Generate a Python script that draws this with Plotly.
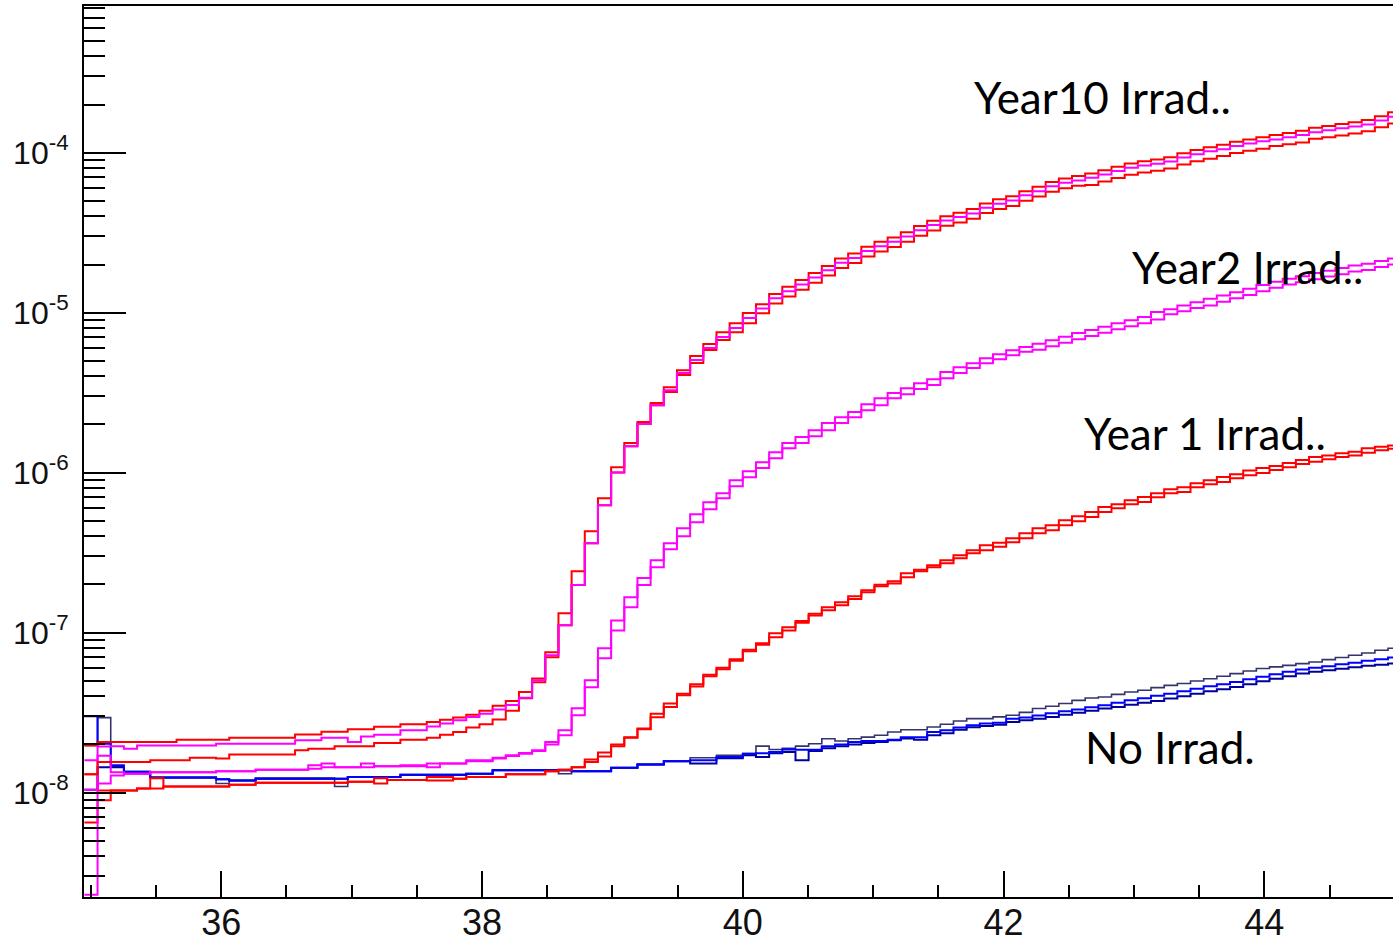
import numpy as np
import plotly.graph_objects as go

# Histogram binning (100 bins)
BIN_LOW, BIN_HIGH, N_BINS = 34.95, 45.05, 100

# ---------------- data (bin contents) ----------------
year10_red_a = [1.97e-8, 2.07e-8, 2.07e-8, 2.07e-8, 2.07e-8, 2.07e-8, 2.07e-8, 2.14e-8, 2.14e-8, 2.14e-8,
                2.14e-8, 2.20e-8, 2.20e-8, 2.20e-8, 2.20e-8, 2.20e-8, 2.31e-8, 2.31e-8, 2.40e-8, 2.40e-8,
                2.49e-8, 2.49e-8, 2.58e-8, 2.58e-8, 2.67e-8, 2.67e-8, 2.76e-8, 2.85e-8, 2.95e-8, 3.06e-8,
                3.25e-8, 3.49e-8, 3.74e-8, 4.25e-8, 5.16e-8, 7.53e-8, 1.32e-7, 2.42e-7, 4.30e-7, 6.91e-7,
                1.08e-6, 1.53e-6, 2.07e-6, 2.72e-6, 3.42e-6, 4.37e-6, 5.35e-6, 6.36e-6, 7.55e-6, 8.60e-6,
                9.94e-6, 1.13e-5, 1.31e-5, 1.45e-5, 1.60e-5, 1.77e-5, 1.96e-5, 2.18e-5, 2.34e-5, 2.58e-5,
                2.77e-5, 2.95e-5, 3.18e-5, 3.48e-5, 3.75e-5, 4.01e-5, 4.21e-5, 4.44e-5, 4.82e-5, 5.11e-5,
                5.35e-5, 5.75e-5, 6.12e-5, 6.55e-5, 6.89e-5, 7.14e-5, 7.40e-5, 7.78e-5, 8.18e-5, 8.55e-5,
                8.85e-5, 9.08e-5, 9.38e-5, 9.93e-5, 1.04e-4, 1.08e-4, 1.12e-4, 1.17e-4, 1.21e-4, 1.25e-4,
                1.29e-4, 1.33e-4, 1.37e-4, 1.43e-4, 1.47e-4, 1.51e-4, 1.55e-4, 1.60e-4, 1.69e-4, 1.79e-4]

year10_magenta = [1.59e-8, 1.94e-8, 1.95e-8, 1.88e-8, 1.97e-8, 1.97e-8, 1.97e-8, 1.97e-8, 1.97e-8, 1.97e-8,
                  2.02e-8, 2.02e-8, 2.02e-8, 2.02e-8, 2.02e-8, 2.02e-8, 2.12e-8, 2.12e-8, 2.20e-8, 2.20e-8,
                  2.07e-8, 2.24e-8, 2.30e-8, 2.30e-8, 2.45e-8, 2.45e-8, 2.59e-8, 2.70e-8, 2.83e-8, 2.97e-8,
                  3.11e-8, 3.30e-8, 3.53e-8, 3.92e-8, 5.03e-8, 7.21e-8, 1.11e-7, 1.98e-7, 3.62e-7, 6.25e-7,
                  1.00e-6, 1.46e-6, 2.01e-6, 2.64e-6, 3.27e-6, 4.19e-6, 5.06e-6, 6.02e-6, 7.05e-6, 8.02e-6,
                  9.27e-6, 1.06e-5, 1.23e-5, 1.36e-5, 1.50e-5, 1.66e-5, 1.84e-5, 2.05e-5, 2.20e-5, 2.43e-5,
                  2.60e-5, 2.77e-5, 2.99e-5, 3.27e-5, 3.53e-5, 3.77e-5, 3.96e-5, 4.17e-5, 4.53e-5, 4.80e-5,
                  5.03e-5, 5.41e-5, 5.75e-5, 6.16e-5, 6.48e-5, 6.71e-5, 6.96e-5, 7.31e-5, 7.69e-5, 8.04e-5,
                  8.32e-5, 8.54e-5, 8.82e-5, 9.33e-5, 9.78e-5, 1.02e-4, 1.05e-4, 1.10e-4, 1.14e-4, 1.18e-4,
                  1.21e-4, 1.25e-4, 1.29e-4, 1.34e-4, 1.38e-4, 1.42e-4, 1.46e-4, 1.50e-4, 1.59e-4, 1.68e-4]

year10_red_b = [1.30e-8, 1.55e-8, 1.55e-8, 1.55e-8, 1.55e-8, 1.59e-8, 1.59e-8, 1.59e-8, 1.65e-8, 1.65e-8,
                1.63e-8, 1.73e-8, 1.73e-8, 1.73e-8, 1.73e-8, 1.73e-8, 1.84e-8, 1.88e-8, 1.88e-8, 1.95e-8,
                1.95e-8, 1.95e-8, 2.04e-8, 2.04e-8, 2.14e-8, 2.14e-8, 2.20e-8, 2.30e-8, 2.39e-8, 2.55e-8,
                2.67e-8, 2.86e-8, 3.24e-8, 3.88e-8, 4.89e-8, 7.02e-8, 1.11e-7, 1.98e-7, 3.62e-7, 6.25e-7,
                1.00e-6, 1.46e-6, 2.01e-6, 2.64e-6, 3.19e-6, 4.08e-6, 4.84e-6, 5.84e-6, 6.74e-6, 7.55e-6,
                8.60e-6, 9.90e-6, 1.14e-5, 1.26e-5, 1.39e-5, 1.54e-5, 1.71e-5, 1.90e-5, 2.04e-5, 2.24e-5,
                2.41e-5, 2.57e-5, 2.77e-5, 3.03e-5, 3.26e-5, 3.49e-5, 3.66e-5, 3.86e-5, 4.19e-5, 4.45e-5,
                4.65e-5, 5.00e-5, 5.32e-5, 5.70e-5, 5.99e-5, 6.21e-5, 6.29e-5, 6.61e-5, 6.95e-5, 7.27e-5,
                7.52e-5, 7.72e-5, 7.97e-5, 8.44e-5, 8.84e-5, 9.18e-5, 9.52e-5, 9.95e-5, 1.03e-4, 1.06e-4,
                1.10e-4, 1.13e-4, 1.16e-4, 1.22e-4, 1.25e-4, 1.28e-4, 1.32e-4, 1.36e-4, 1.44e-4, 1.52e-4]

year2_magenta_a = [1.04e-8, 1.70e-8, 1.34e-8, 1.31e-8, 1.31e-8, 1.34e-8, 1.34e-8, 1.34e-8, 1.34e-8, 1.34e-8,
                   1.36e-8, 1.36e-8, 1.36e-8, 1.39e-8, 1.39e-8, 1.39e-8, 1.39e-8, 1.48e-8, 1.52e-8, 1.44e-8,
                   1.44e-8, 1.52e-8, 1.46e-8, 1.46e-8, 1.48e-8, 1.48e-8, 1.52e-8, 1.52e-8, 1.52e-8, 1.59e-8,
                   1.59e-8, 1.65e-8, 1.71e-8, 1.77e-8, 1.84e-8, 2.07e-8, 2.45e-8, 3.37e-8, 5.04e-8, 7.98e-8,
                   1.19e-7, 1.66e-7, 2.19e-7, 2.83e-7, 3.62e-7, 4.49e-7, 5.50e-7, 6.53e-7, 7.43e-7, 8.96e-7,
                   1.02e-6, 1.16e-6, 1.34e-6, 1.53e-6, 1.67e-6, 1.84e-6, 2.04e-6, 2.22e-6, 2.39e-6, 2.68e-6,
                   2.92e-6, 3.14e-6, 3.37e-6, 3.62e-6, 3.84e-6, 4.25e-6, 4.56e-6, 4.83e-6, 5.19e-6, 5.49e-6,
                   5.82e-6, 6.11e-6, 6.40e-6, 6.73e-6, 7.08e-6, 7.45e-6, 7.78e-6, 8.17e-6, 8.59e-6, 8.97e-6,
                   9.38e-6, 1.01e-5, 1.05e-5, 1.11e-5, 1.16e-5, 1.22e-5, 1.28e-5, 1.34e-5, 1.41e-5, 1.49e-5,
                   1.56e-5, 1.63e-5, 1.69e-5, 1.77e-5, 1.83e-5, 1.90e-5, 1.97e-5, 2.02e-5, 2.10e-5, 2.18e-5]

year2_magenta_b = [2.3e-9, 1.14e-8, 1.28e-8, 1.31e-8, 1.31e-8, 1.34e-8, 1.34e-8, 1.34e-8, 1.34e-8, 1.34e-8,
                   1.36e-8, 1.36e-8, 1.36e-8, 1.39e-8, 1.39e-8, 1.39e-8, 1.39e-8, 1.41e-8, 1.44e-8, 1.44e-8,
                   1.44e-8, 1.44e-8, 1.46e-8, 1.46e-8, 1.46e-8, 1.46e-8, 1.44e-8, 1.52e-8, 1.52e-8, 1.57e-8,
                   1.57e-8, 1.63e-8, 1.69e-8, 1.75e-8, 1.82e-8, 2.00e-8, 2.28e-8, 3.04e-8, 4.55e-8, 6.90e-8,
                   1.03e-7, 1.44e-7, 1.98e-7, 2.56e-7, 3.32e-7, 4.00e-7, 4.90e-7, 5.90e-7, 6.92e-7, 8.23e-7,
                   9.35e-7, 1.07e-6, 1.23e-6, 1.42e-6, 1.53e-6, 1.69e-6, 1.84e-6, 2.04e-6, 2.22e-6, 2.45e-6,
                   2.64e-6, 2.92e-6, 3.09e-6, 3.33e-6, 3.53e-6, 3.89e-6, 4.19e-6, 4.50e-6, 4.83e-6, 5.12e-6,
                   5.42e-6, 5.69e-6, 5.87e-6, 6.17e-6, 6.49e-6, 6.83e-6, 7.14e-6, 7.50e-6, 7.88e-6, 8.23e-6,
                   8.59e-6, 9.05e-6, 9.79e-6, 1.02e-5, 1.07e-5, 1.11e-5, 1.17e-5, 1.23e-5, 1.29e-5, 1.36e-5,
                   1.43e-5, 1.50e-5, 1.55e-5, 1.62e-5, 1.68e-5, 1.74e-5, 1.81e-5, 1.85e-5, 1.93e-5, 2.00e-5]

year1_red_a = [1.30e-8, 1.03e-8, 1.03e-8, 1.03e-8, 1.06e-8, 1.23e-8, 1.09e-8, 1.09e-8, 1.09e-8, 1.09e-8,
               1.09e-8, 1.12e-8, 1.12e-8, 1.15e-8, 1.15e-8, 1.15e-8, 1.15e-8, 1.15e-8, 1.15e-8, 1.15e-8,
               1.17e-8, 1.17e-8, 1.23e-8, 1.20e-8, 1.20e-8, 1.20e-8, 1.25e-8, 1.25e-8, 1.22e-8, 1.25e-8,
               1.25e-8, 1.25e-8, 1.30e-8, 1.30e-8, 1.30e-8, 1.36e-8, 1.39e-8, 1.44e-8, 1.61e-8, 1.78e-8,
               2.00e-8, 2.22e-8, 2.51e-8, 3.11e-8, 3.60e-8, 4.15e-8, 4.75e-8, 5.45e-8, 6.02e-8, 6.80e-8,
               7.80e-8, 8.57e-8, 9.90e-8, 1.08e-7, 1.18e-7, 1.31e-7, 1.44e-7, 1.55e-7, 1.69e-7, 1.84e-7,
               1.99e-7, 2.09e-7, 2.35e-7, 2.47e-7, 2.64e-7, 2.83e-7, 3.04e-7, 3.27e-7, 3.52e-7, 3.65e-7,
               3.89e-7, 4.18e-7, 4.49e-7, 4.69e-7, 5.04e-7, 5.34e-7, 5.68e-7, 6.10e-7, 6.34e-7, 6.72e-7,
               7.05e-7, 7.43e-7, 7.87e-7, 8.11e-7, 8.59e-7, 8.96e-7, 9.40e-7, 9.77e-7, 1.03e-6, 1.07e-6,
               1.10e-6, 1.15e-6, 1.20e-6, 1.25e-6, 1.28e-6, 1.32e-6, 1.35e-6, 1.42e-6, 1.45e-6, 1.48e-6]

year1_red_b = [6.5e-9, 8.94e-9, 1.03e-8, 1.03e-8, 1.06e-8, 1.06e-8, 1.09e-8, 1.09e-8, 1.09e-8, 1.09e-8,
               1.09e-8, 1.12e-8, 1.12e-8, 1.15e-8, 1.15e-8, 1.15e-8, 1.15e-8, 1.15e-8, 1.15e-8, 1.15e-8,
               1.17e-8, 1.17e-8, 1.14e-8, 1.20e-8, 1.20e-8, 1.20e-8, 1.19e-8, 1.19e-8, 1.22e-8, 1.25e-8,
               1.25e-8, 1.25e-8, 1.30e-8, 1.30e-8, 1.30e-8, 1.36e-8, 1.39e-8, 1.44e-8, 1.55e-8, 1.68e-8,
               1.95e-8, 2.20e-8, 2.49e-8, 2.96e-8, 3.42e-8, 4.05e-8, 4.61e-8, 5.33e-8, 5.89e-8, 6.66e-8,
               7.64e-8, 8.39e-8, 9.34e-8, 1.03e-7, 1.15e-7, 1.28e-7, 1.38e-7, 1.48e-7, 1.62e-7, 1.79e-7,
               1.95e-7, 2.03e-7, 2.22e-7, 2.42e-7, 2.56e-7, 2.71e-7, 2.92e-7, 3.13e-7, 3.27e-7, 3.44e-7,
               3.67e-7, 3.89e-7, 4.18e-7, 4.36e-7, 4.69e-7, 4.97e-7, 5.28e-7, 5.68e-7, 5.99e-7, 6.34e-7,
               6.56e-7, 7.02e-7, 7.43e-7, 7.57e-7, 8.11e-7, 8.46e-7, 8.75e-7, 9.23e-7, 9.63e-7, 9.96e-7,
               1.04e-6, 1.08e-6, 1.13e-6, 1.17e-6, 1.21e-6, 1.25e-6, 1.28e-6, 1.33e-6, 1.38e-6, 1.41e-6]

noirr_navy = [1.97e-8, 2.94e-8, 1.46e-8, 1.35e-8, 1.35e-8, 1.24e-8, 1.24e-8, 1.24e-8, 1.24e-8, 1.24e-8,
              1.14e-8, 1.19e-8, 1.19e-8, 1.23e-8, 1.23e-8, 1.23e-8, 1.23e-8, 1.23e-8, 1.23e-8, 1.09e-8,
              1.25e-8, 1.25e-8, 1.25e-8, 1.25e-8, 1.29e-8, 1.29e-8, 1.29e-8, 1.29e-8, 1.29e-8, 1.31e-8,
              1.31e-8, 1.38e-8, 1.38e-8, 1.38e-8, 1.38e-8, 1.38e-8, 1.31e-8, 1.36e-8, 1.36e-8, 1.36e-8,
              1.43e-8, 1.43e-8, 1.50e-8, 1.50e-8, 1.57e-8, 1.57e-8, 1.65e-8, 1.65e-8, 1.71e-8, 1.71e-8,
              1.75e-8, 1.95e-8, 1.86e-8, 1.89e-8, 1.95e-8, 2.02e-8, 2.17e-8, 2.10e-8, 2.17e-8, 2.22e-8,
              2.28e-8, 2.39e-8, 2.47e-8, 2.47e-8, 2.57e-8, 2.67e-8, 2.80e-8, 2.90e-8, 2.90e-8, 2.97e-8,
              3.04e-8, 3.17e-8, 3.35e-8, 3.46e-8, 3.60e-8, 3.77e-8, 3.90e-8, 3.96e-8, 4.11e-8, 4.25e-8,
              4.36e-8, 4.53e-8, 4.68e-8, 4.80e-8, 4.98e-8, 5.15e-8, 5.33e-8, 5.54e-8, 5.75e-8, 5.96e-8,
              6.10e-8, 6.24e-8, 6.40e-8, 6.55e-8, 6.78e-8, 6.98e-8, 7.21e-8, 7.45e-8, 7.75e-8, 7.98e-8]

noirr_blue_a = [3.00e-8, 2.02e-8, 1.48e-8, 1.35e-8, 1.35e-8, 1.24e-8, 1.24e-8, 1.24e-8, 1.24e-8, 1.24e-8,
                1.21e-8, 1.19e-8, 1.19e-8, 1.22e-8, 1.22e-8, 1.22e-8, 1.22e-8, 1.22e-8, 1.22e-8, 1.22e-8,
                1.25e-8, 1.25e-8, 1.25e-8, 1.25e-8, 1.29e-8, 1.29e-8, 1.29e-8, 1.29e-8, 1.29e-8, 1.31e-8,
                1.31e-8, 1.38e-8, 1.38e-8, 1.38e-8, 1.38e-8, 1.38e-8, 1.38e-8, 1.36e-8, 1.36e-8, 1.36e-8,
                1.43e-8, 1.43e-8, 1.50e-8, 1.50e-8, 1.57e-8, 1.57e-8, 1.59e-8, 1.59e-8, 1.67e-8, 1.67e-8,
                1.75e-8, 1.76e-8, 1.79e-8, 1.86e-8, 1.85e-8, 1.85e-8, 1.95e-8, 2.00e-8, 2.07e-8, 2.10e-8,
                2.10e-8, 2.14e-8, 2.22e-8, 2.22e-8, 2.39e-8, 2.45e-8, 2.55e-8, 2.63e-8, 2.70e-8, 2.73e-8,
                2.89e-8, 2.94e-8, 3.03e-8, 3.13e-8, 3.22e-8, 3.31e-8, 3.41e-8, 3.51e-8, 3.64e-8, 3.77e-8,
                3.88e-8, 4.03e-8, 4.15e-8, 4.30e-8, 4.45e-8, 4.62e-8, 4.75e-8, 4.91e-8, 5.10e-8, 5.29e-8,
                5.49e-8, 5.69e-8, 5.87e-8, 6.02e-8, 6.15e-8, 6.34e-8, 6.47e-8, 6.66e-8, 6.81e-8, 6.98e-8]

noirr_blue_b = [1.04e-8, 1.44e-8, 1.44e-8, 1.35e-8, 1.35e-8, 1.24e-8, 1.24e-8, 1.24e-8, 1.24e-8, 1.24e-8,
                1.21e-8, 1.19e-8, 1.19e-8, 1.22e-8, 1.22e-8, 1.22e-8, 1.22e-8, 1.22e-8, 1.22e-8, 1.22e-8,
                1.25e-8, 1.25e-8, 1.25e-8, 1.25e-8, 1.29e-8, 1.29e-8, 1.29e-8, 1.29e-8, 1.29e-8, 1.31e-8,
                1.31e-8, 1.38e-8, 1.38e-8, 1.38e-8, 1.38e-8, 1.38e-8, 1.38e-8, 1.36e-8, 1.36e-8, 1.36e-8,
                1.43e-8, 1.43e-8, 1.50e-8, 1.50e-8, 1.57e-8, 1.57e-8, 1.52e-8, 1.52e-8, 1.64e-8, 1.64e-8,
                1.71e-8, 1.67e-8, 1.76e-8, 1.79e-8, 1.59e-8, 1.82e-8, 1.89e-8, 1.95e-8, 2.00e-8, 2.04e-8,
                2.07e-8, 2.12e-8, 2.18e-8, 2.14e-8, 2.28e-8, 2.35e-8, 2.47e-8, 2.56e-8, 2.61e-8, 2.65e-8,
                2.76e-8, 2.83e-8, 2.89e-8, 2.97e-8, 3.06e-8, 3.15e-8, 3.24e-8, 3.35e-8, 3.43e-8, 3.54e-8,
                3.64e-8, 3.74e-8, 3.87e-8, 4.00e-8, 4.14e-8, 4.30e-8, 4.42e-8, 4.57e-8, 4.75e-8, 4.96e-8,
                5.14e-8, 5.33e-8, 5.54e-8, 5.69e-8, 5.81e-8, 5.94e-8, 6.07e-8, 6.20e-8, 6.29e-8, 6.40e-8]

labels = ["Year10 Irrad..", "Year2 Irrad..", "Year 1 Irrad..", "No Irrad."]
label_pos = [(0.6784, 0.8979), (0.7991, 0.7076), (0.7622, 0.5204), (0.7634, 0.1687)]

x_major_ticks = [36, 38, 40, 42, 44]
y_major_ticks = [1e-8, 1e-7, 1e-6, 1e-5, 1e-4]
y_major_text = ["10<sup>-8</sup>", "10<sup>-7</sup>", "10<sup>-6</sup>", "10<sup>-5</sup>", "10<sup>-4</sup>"]

# ---------------------------------------------------------------------------
edges = np.linspace(BIN_LOW, BIN_HIGH, N_BINS + 1)


def step_xy(vals):
    n = len(vals)
    xs = list(edges[:n + 1])
    ys = list(vals) + [vals[-1]]
    return xs, ys


series = [
    ("No Irrad. (navy)", noirr_navy, "#33336e", 1.6),
    ("No Irrad. (blue b)", noirr_blue_b, "#00009a", 2.0),
    ("No Irrad. (blue a)", noirr_blue_a, "#0000ff", 2.0),
    ("Year 1 (a)", year1_red_a, "#ff0000", 2.0),
    ("Year 1 (b)", year1_red_b, "#ff0000", 2.0),
    ("Year2 (a)", year2_magenta_a, "#ff00ff", 2.0),
    ("Year2 (b)", year2_magenta_b, "#ff00ff", 2.0),
    ("Year10 (red b)", year10_red_b, "#ff0000", 2.0),
    ("Year10 (red a)", year10_red_a, "#ff0000", 2.0),
    ("Year10 (magenta)", year10_magenta, "#ff00ff", 2.0),
]

fig = go.Figure()
for name, vals, col, w in series:
    xs, ys = step_xy(vals)
    fig.add_trace(go.Scatter(x=xs, y=ys, mode="lines", name=name,
                             line=dict(color=col, width=w, shape="hv"),
                             showlegend=False, hoverinfo="skip"))

for txt, (px, py) in zip(labels, label_pos):
    fig.add_annotation(text=txt, xref="paper", yref="paper", x=px, y=py,
                       xanchor="left", yanchor="middle", showarrow=False,
                       font=dict(family="Lato, 'Open Sans', sans-serif", size=44, color="#000000"))

y_minor = [m * 10.0 ** e for e in range(-9, -3) for m in range(2, 10)]

fig.update_layout(
    width=1393, height=941,
    margin=dict(l=84, r=0, t=6, b=44, autoexpand=False),
    paper_bgcolor="white", plot_bgcolor="white",
    showlegend=False,
    xaxis=dict(
        range=[34.947, 44.987], showgrid=False, zeroline=False, automargin=False,
        showline=True, linecolor="#000000", linewidth=2, mirror=True,
        ticks="inside", ticklen=26, tickwidth=2, tickcolor="#000000",
        tickmode="array", tickvals=x_major_ticks,
        tickfont=dict(family="Liberation Sans, Arial, sans-serif", size=36, color="#111111"),
        minor=dict(ticks="inside", ticklen=12, tickwidth=2, tickcolor="#000000",
                   tickmode="linear", tick0=35, dtick=0.5, showgrid=False),
        ticklabelstandoff=-7,
    ),
    yaxis=dict(
        type="log", range=[-8.653, -3.083], showgrid=False, zeroline=False, automargin=False,
        showline=True, linecolor="#000000", linewidth=2, mirror=False,
        ticks="inside", ticklen=42, tickwidth=2, tickcolor="#000000",
        tickmode="array", tickvals=y_major_ticks, ticktext=y_major_text,
        tickfont=dict(family="Liberation Sans, Arial, sans-serif", size=32, color="#111111"),
        minor=dict(ticks="inside", ticklen=21, tickwidth=2, tickcolor="#000000",
                   tickmode="array", tickvals=y_minor, showgrid=False),
        ticklabelstandoff=7,
    ),
)

fig.write_html("out.html",
               config={"displayModeBar": False},
               post_script="document.body.style.margin='0px';document.body.style.overflow='hidden';")
